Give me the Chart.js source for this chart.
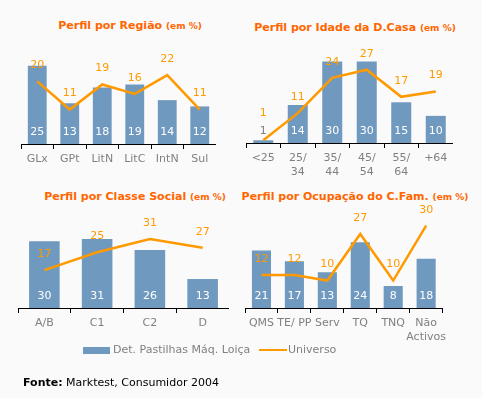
<!DOCTYPE html>
<html>
<head>
<meta charset="utf-8">
<script src="https://cdn.jsdelivr.net/npm/chart.js@4/dist/chart.umd.min.js"></script>
<style>
  body { margin: 0; background: #fafafa; font-family: 'DejaVu Sans', Verdana, sans-serif; }
  #wrap { position: relative; width: 482px; height: 398px; overflow: hidden; }
  .panel { position: absolute; }
  .title { position: absolute; color: #ff6600; font-weight: bold; font-size: 11px; white-space: nowrap; transform: translate(-50%, -50%); }
  .title small { font-size: 9px; }
  .legend { position: absolute; top: 343px; font-size: 11px; color: #808080; white-space: nowrap; }
  .swatch { position: absolute; }
  #footer { position: absolute; left: 23px; top: 376px; font-size: 11px; color: #000; white-space: nowrap; }
</style>
</head>
<body>
<div id="wrap">
  <div class="title" style="left:130px; top:25px">Perfil por Região <small>(em %)</small></div>
  <div class="title" style="left:355px; top:27px">Perfil por Idade da D.Casa <small>(em %)</small></div>
  <div class="title" style="left:135px; top:196px">Perfil por Classe Social <small>(em %)</small></div>
  <div class="title" style="left:355px; top:196px">Perfil por Ocupação do C.Fam. <small>(em %)</small></div>

  <div class="panel" id="p1"><canvas id="c1"></canvas></div>
  <div class="panel" id="p2"><canvas id="c2"></canvas></div>
  <div class="panel" id="p3"><canvas id="c3"></canvas></div>
  <div class="panel" id="p4"><canvas id="c4"></canvas></div>

  <div class="swatch" style="left:83px; top:347px; width:27px; height:7px; background:#7099bf"></div>
  <div class="legend" style="left:113px">Det. Pastilhas Máq. Loiça</div>
  <div class="swatch" style="left:259px; top:349px; width:28px; height:2px; background:#ff9900"></div>
  <div class="legend" style="left:288px">Universo</div>

  <div id="footer"><b>Fonte:</b> Marktest, Consumidor 2004</div>
</div>
<script>
// Region
const regionLabels = ['GLx', 'GPt', 'LitN', 'LitC', 'IntN', 'Sul'];
const regionProduct = [25, 13, 18, 19, 14, 12];
const regionUniverse = [20, 11, 19, 16, 22, 11];

// Age of housewife
const ageLabels = ['<25', ['25/', '34'], ['35/', '44'], ['45/', '54'], ['55/', '64'], '+64'];
const ageProduct = [1, 14, 30, 30, 15, 10];
const ageUniverse = [1, 11, 24, 27, 17, 19];

// Social class
const classLabels = ['A/B', 'C1', 'C2', 'D'];
const classProduct = [30, 31, 26, 13];
const classUniverse = [17, 25, 31, 27];

// Occupation of head of family
const occLabels = ['QMS', 'TE/ PP', 'Serv', 'TQ', 'TNQ', ['Não', 'Activos']];
const occProduct = [21, 17, 13, 24, 8, 18];
const occUniverse = [12, 12, 10, 27, 10, 30];

const BAR = '#7099bf';
const LINE = '#ff9900';
const PAD_TOP = 30;

// value labels: white at the foot of bars (grey if the bar is too short), orange above line points
const valueLabels = {
    id: 'valueLabels',
    afterDatasetsDraw(chart) {
        const c = chart.ctx;
        const bottom = chart.chartArea.bottom;
        c.save();
        c.font = '11px "DejaVu Sans"';
        c.textAlign = 'center';
        c.textBaseline = 'middle';
        chart.data.datasets.forEach((ds, i) => {
            const meta = chart.getDatasetMeta(i);
            meta.data.forEach((el, j) => {
                if (ds.type === 'bar') {
                    const ty = bottom - 12;
                    c.fillStyle = el.y > ty - 6 ? '#808080' : '#ffffff';
                    c.fillText(ds.data[j], el.x, ty);
                } else {
                    c.fillStyle = LINE;
                    c.fillText(ds.data[j], el.x, Math.min(el.y - 16, bottom - 30));
                }
            });
        });
        c.restore();
    }
};

function makePanel(id, box, labels, product, universe, ymax, xh) {
    const holder = document.getElementById('p' + id);
    const w = box.right - box.left;
    const h = PAD_TOP + (box.bottom - box.top) + xh;
    holder.style.left = box.left + 'px';
    holder.style.top = (box.top - PAD_TOP) + 'px';
    const canvas = document.getElementById('c' + id);
    canvas.width = w;
    canvas.height = h;

    return new Chart(canvas.getContext('2d'), {
        data: {
            labels: labels,
            datasets: [{
                type: 'line',
                label: 'Universo',
                data: universe,
                borderColor: LINE,
                borderWidth: 2.5,
                pointRadius: 0,
                tension: 0,
                order: 0
            }, {
                type: 'bar',
                label: 'Det. Pastilhas Máq. Loiça',
                data: product,
                backgroundColor: BAR,
                barPercentage: 0.58,
                categoryPercentage: 1,
                order: 1
            }]
        },
        options: {
            responsive: false,
            animation: false,
            devicePixelRatio: 1,
            layout: { padding: { top: PAD_TOP, left: 0, right: 0, bottom: 0 } },
            plugins: { legend: { display: false }, tooltip: { enabled: false } },
            scales: {
                x: {
                    offset: true,
                    grid: { offset: true, drawOnChartArea: false, tickLength: 5, color: '#000', lineWidth: 1 },
                    border: { display: true, color: '#000', width: 1 },
                    ticks: {
                        color: '#808080',
                        font: { family: 'DejaVu Sans', size: 11 },
                        autoSkip: false,
                        maxRotation: 0,
                        minRotation: 0,
                        padding: 4
                    },
                    afterFit: function(scale) { scale.height = xh; }
                },
                y: { display: false, min: 0, max: ymax }
            }
        },
        plugins: [valueLabels]
    });
}

makePanel(1, { left: 21, right: 216, top: 50, bottom: 144 }, regionLabels, regionProduct, regionUniverse, 30, 30);
makePanel(2, { left: 246, right: 453, top: 48, bottom: 143 }, ageLabels, ageProduct, ageUniverse, 35, 42);
makePanel(3, { left: 18, right: 229, top: 230, bottom: 308 }, classLabels, classProduct, classUniverse, 35, 30);
makePanel(4, { left: 245, right: 450, top: 212, bottom: 308 }, occLabels, occProduct, occUniverse, 35, 42);
</script>
</body>
</html>
